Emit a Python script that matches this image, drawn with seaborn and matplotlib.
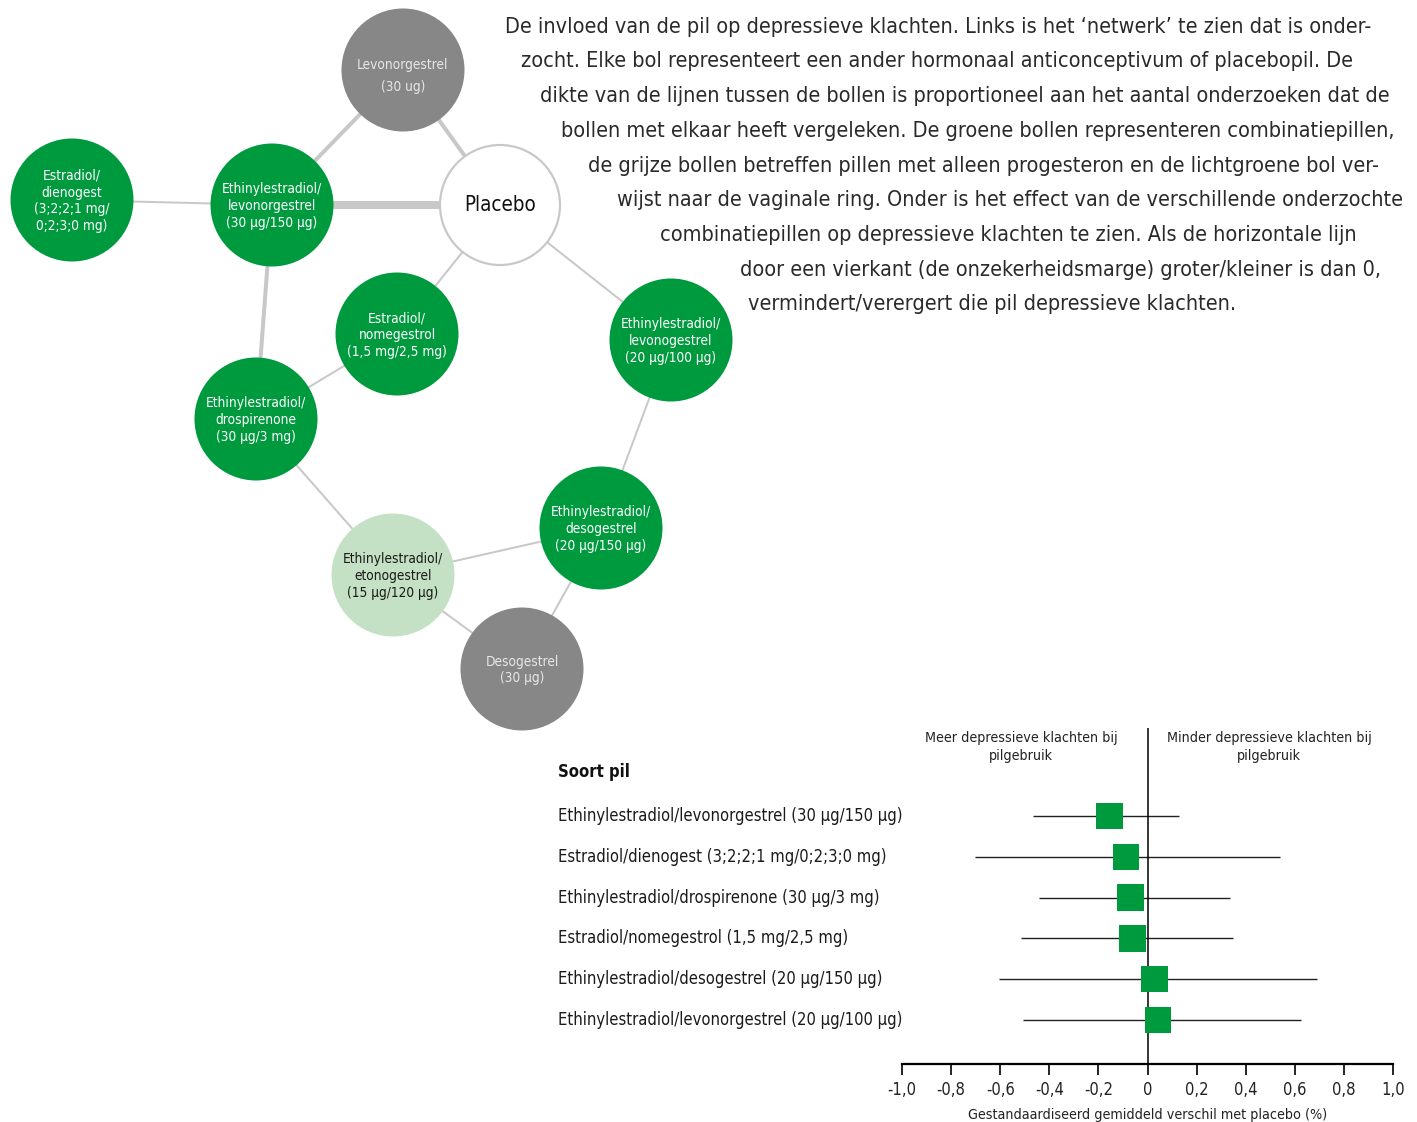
import matplotlib
matplotlib.use('Agg')
import numpy as np
import pandas as pd
import seaborn as sns
import matplotlib.pyplot as plt
from matplotlib.patches import Circle

###############################################################################
# Data
###############################################################################
# Network: nodes (label, type) and edges (number of studies -> thickness)
NODE_IDS = ['LNG', 'E2DNG', 'EE30LNG', 'PLA', 'E2NOM',
            'EEDRSP', 'EE20LNG', 'EEDSG', 'EEETO', 'DSG']
NODE_LBLS = [
    'Levonorgestrel\n(30 ug)',
    'Estradiol/\ndienogest\n(3;2;2;1 mg/\n0;2;3;0 mg)',
    'Ethinylestradiol/\nlevonorgestrel\n(30 µg/150 µg)',
    'Placebo',
    'Estradiol/\nnomegestrol\n(1,5 mg/2,5 mg)',
    'Ethinylestradiol/\ndrospirenone\n(30 µg/3 mg)',
    'Ethinylestradiol/\nlevonogestrel\n(20 µg/100 µg)',
    'Ethinylestradiol/\ndesogestrel\n(20 µg/150 µg)',
    'Ethinylestradiol/\netonogestrel\n(15 µg/120 µg)',
    'Desogestrel\n(30 µg)',
]
NODE_TYPES = ['prog', 'combi', 'combi', 'placebo', 'combi',
              'combi', 'combi', 'combi', 'ring', 'prog']
EDGE_FROM = ['LNG', 'LNG', 'EE30LNG', 'E2DNG', 'EE30LNG', 'PLA', 'PLA',
             'E2NOM', 'EEDRSP', 'EEETO', 'EEETO', 'EE20LNG', 'EEDSG']
EDGE_TO = ['EE30LNG', 'PLA', 'PLA', 'EE30LNG', 'EEDRSP', 'E2NOM', 'EE20LNG',
           'EEDRSP', 'EEETO', 'EEDSG', 'DSG', 'EEDSG', 'DSG']
EDGE_STUDIES = [2, 2, 4, 1, 2, 1, 1, 1, 1, 1, 1, 1, 1]

# Forest plot
PILLS = [
    'Ethinylestradiol/levonorgestrel (30 µg/150 µg)',
    'Estradiol/dienogest (3;2;2;1 mg/0;2;3;0 mg)',
    'Ethinylestradiol/drospirenone (30 µg/3 mg)',
    'Estradiol/nomegestrol (1,5 mg/2,5 mg)',
    'Ethinylestradiol/desogestrel (20 µg/150 µg)',
    'Ethinylestradiol/levonorgestrel (20 µg/100 µg)',
]
SMD = [-0.155, -0.087, -0.069, -0.061, 0.029, 0.044]
CI_LO = [-0.465, -0.703, -0.443, -0.514, -0.605, -0.507]
CI_HI = [0.127, 0.539, 0.338, 0.349, 0.689, 0.627]
XTICKS = [-1.0, -0.8, -0.6, -0.4, -0.2, 0.0, 0.2, 0.4, 0.6, 0.8, 1.0]
XTICK_LBLS = ['-1,0', '-0,8', '-0,6', '-0,4', '-0,2', '0',
              '0,2', '0,4', '0,6', '0,8', '1,0']

PARA = [
    'De invloed van de pil op depressieve klachten. Links is het ‘netwerk’ te zien dat is onder-',
    'zocht. Elke bol representeert een ander hormonaal anticonceptivum of placebopil. De',
    'dikte van de lijnen tussen de bollen is proportioneel aan het aantal onderzoeken dat de',
    'bollen met elkaar heeft vergeleken. De groene bollen representeren combinatiepillen,',
    'de grijze bollen betreffen pillen met alleen progesteron en de lichtgroene bol ver-',
    'wijst naar de vaginale ring. Onder is het effect van de verschillende onderzochte',
    'combinatiepillen op depressieve klachten te zien. Als de horizontale lijn',
    'door een vierkant (de onzekerheidsmarge) groter/kleiner is dan 0,',
    'vermindert/verergert die pil depressieve klachten.',
]

###############################################################################
# Layout / style
###############################################################################
NODE_POS = {
    'LNG': (403, 70), 'E2DNG': (72, 200), 'EE30LNG': (272, 205),
    'PLA': (500, 205), 'E2NOM': (397, 334), 'EEDRSP': (256, 419),
    'EE20LNG': (671, 340), 'EEDSG': (601, 528), 'EEETO': (393, 575),
    'DSG': (522, 669),
}
FACE = {'prog': '#878787', 'combi': '#009a3e', 'placebo': '#ffffff', 'ring': '#c5e1c5'}
TXT = {'prog': '#e6e6e6', 'combi': '#ffffff', 'placebo': '#111111', 'ring': '#1a1a1a'}
PARA_X = [505, 521, 540, 561, 588, 617, 660, 740, 748]
PARA_R = [1368, 1360, 1393, 1396, 1384, 1400, 1358, 1386, 1236]
PARA_Y = [27, 61, 96, 131, 166, 200, 235, 270, 304]
GREEN = '#009a3e'
EDGE_CLR = '#c8c8c8'
PX = 72 / 100  # pixels -> points

sns.set_style('white')
plt.rcParams['font.family'] = ['DejaVu Sans']
plt.rcParams['font.stretch'] = 'condensed'

fig = plt.figure(figsize=(14.17, 11.22), dpi=100)
ax = fig.add_axes([0, 0, 1, 1])
ax.set_xlim(0, 1417)
ax.set_ylim(1122, 0)
ax.axis('off')
rend = fig.canvas.get_renderer()


def fitSize(texts, targets, base=12, **kw):
    # font size so that the texts span their target widths (in pixels)
    ratios = []
    for (t, w) in zip(texts, targets):
        tt = fig.text(0, 0, t, fontsize=base, **kw)
        ratios.append(w / tt.get_window_extent(rend).width)
        tt.remove()
    return base * float(np.median(ratios))


###############################################################################
# Network
###############################################################################
for (a, b, n) in zip(EDGE_FROM, EDGE_TO, EDGE_STUDIES):
    (xa, ya), (xb, yb) = NODE_POS[a], NODE_POS[b]
    ax.plot([xa, xb], [ya, yb], color=EDGE_CLR, lw=2.0 * n * PX,
            solid_capstyle='butt', zorder=1)
fsNode = fitSize(['Ethinylestradiol/', 'levonorgestrel', '(30 µg/150 µg)'],
                 [100, 88, 93])
for (nid, lbl, kind) in zip(NODE_IDS, NODE_LBLS, NODE_TYPES):
    (x, y) = NODE_POS[nid]
    if kind == 'placebo':
        ax.add_patch(Circle((x, y), 60, facecolor='white', edgecolor=EDGE_CLR,
                            lw=2.2 * PX, zorder=2))
        ax.text(x, y, lbl, ha='center', va='center', fontsize=fsNode * 1.5,
                color=TXT[kind], zorder=3)
    else:
        ax.add_patch(Circle((x, y), 61.5, facecolor=FACE[kind],
                            edgecolor='none', zorder=2))
        ls = 1.75 if nid == 'LNG' else 1.25
        dy = 6 if nid == 'LNG' else 1
        ax.text(x, y + dy, lbl, ha='center', va='center', fontsize=fsNode,
                color=TXT[kind], linespacing=ls, zorder=3)
###############################################################################
# Caption
###############################################################################
fsPara = fitSize(PARA, [r - l for (l, r) in zip(PARA_X, PARA_R)], base=15)
for (t, x, y) in zip(PARA, PARA_X, PARA_Y):
    ax.text(x, y, t, ha='left', va='center', fontsize=fsPara, color='#2a2a2a')
###############################################################################
# Forest plot
###############################################################################
(x0, x1, ytop, yax) = (902, 1393, 728, 1064)
axf = fig.add_axes([x0 / 1417, (1122 - yax) / 1122,
                    (x1 - x0) / 1417, (yax - ytop) / 1122])
df = pd.DataFrame({'pill': PILLS, 'smd': SMD, 'lo': CI_LO, 'hi': CI_HI,
                   'row': np.arange(len(PILLS))})
axf.hlines(df['row'], df['lo'], df['hi'], color='#222222', lw=1.0, zorder=1)
sns.scatterplot(data=df, x='smd', y='row', marker='s', s=360, color=GREEN,
                edgecolor='none', ax=axf, zorder=3, legend=False)
axf.axvline(0, color='black', lw=1.1, zorder=2)
axf.set_xlim(-1, 1)
axf.set_ylim((yax - 816) / 40.8, (ytop - 816) / 40.8)
axf.set_facecolor('none')
for s in ('top', 'right', 'left'):
    axf.spines[s].set_visible(False)
axf.spines['bottom'].set_linewidth(1.6)
axf.spines['bottom'].set_color('black')
axf.set_yticks([])
fsLbl = fitSize(PILLS, [342, 329, 321, 290, 324, 342])
fsSmall = fsLbl * 0.86
axf.set_xticks(XTICKS)
axf.set_xticklabels(XTICK_LBLS, fontsize=fsLbl, color='#222222')
axf.tick_params(axis='x', bottom=True, direction='out', length=8, width=1.2,
                pad=4, color='black')
axf.set_xlabel('Gestandaardiseerd gemiddeld verschil met placebo (%)',
               fontsize=fsSmall, color='#222222', labelpad=7)
axf.set_ylabel('')
xl = (558 - 1148) / 245.5
for (i, p) in enumerate(PILLS):
    axf.text(xl, i, p, ha='left', va='center', fontsize=fsLbl,
             color='#1a1a1a', clip_on=False)
axf.text(xl, (772 - 816) / 40.8, 'Soort pil', ha='left', va='center',
         fontsize=fsLbl, fontweight='bold', color='#111111', clip_on=False)
axf.text(-0.515, (747 - 816) / 40.8,
         'Meer depressieve klachten bij\npilgebruik', ha='center',
         va='center', fontsize=fsSmall, color='#222222', linespacing=1.45)
axf.text(0.495, (747 - 816) / 40.8,
         'Minder depressieve klachten bij\npilgebruik', ha='center',
         va='center', fontsize=fsSmall, color='#222222', linespacing=1.45)

fig.savefig('out.png', dpi=100)
